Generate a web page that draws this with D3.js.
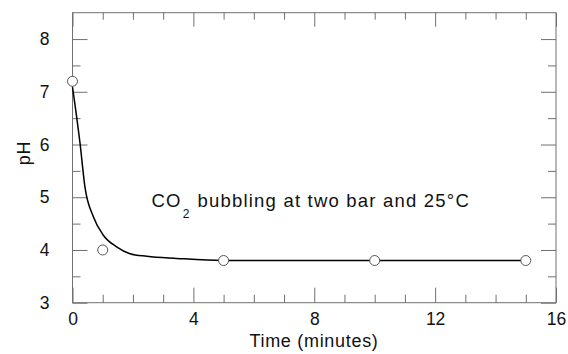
<!DOCTYPE html>
<html><head><meta charset="utf-8">
<script src="https://cdn.jsdelivr.net/npm/d3@7"></script>
<style>body{margin:0;background:#fff;} text{font-family:"Liberation Sans",Arial,sans-serif;fill:#111;}</style>
</head><body>
<svg id="c" width="568" height="354"></svg>
<script>
// Measured data
const time = [0, 1, 5, 10, 15];
const pH = [7.2, 4.0, 3.8, 3.8, 3.8];
// Fitted curve
const fitTime = [0, 0.25, 0.41, 0.69, 1.02, 1.46, 1.9, 2.46, 3.45, 5, 10, 15];
const fitPH = [7.09, 6.02, 5.2, 4.63, 4.28, 4.06, 3.93, 3.88, 3.84, 3.8, 3.8, 3.8];
const xTicks = [0, 4, 8, 12, 16];
const yTicks = [3, 4, 5, 6, 7, 8];
const xLabel = "Time (minutes)";
const yLabel = "pH";

const L = 72.5, R = 556, T = 12.7, B = 302.7;
const svg = d3.select("#c");
const x = d3.scaleLinear().domain([0, 16]).range([L, R]);
const y = d3.scaleLinear().domain([3, 8.5]).range([B, T]);
const axisColor = "#707070";

const xMinor = d3.range(0, 17, 1).filter(v => v % 4 !== 0);
const yMinor = d3.range(3.5, 8.5, 1);

function styleAxis(g){ g.select(".domain").remove(); g.selectAll(".tick line").attr("stroke", axisColor).attr("stroke-width", 1); }

// bottom
svg.append("g").attr("transform", `translate(0,${B})`)
  .call(d3.axisBottom(x).tickValues(xTicks).tickSize(-15).tickPadding(10).tickFormat(d3.format("d")))
  .call(styleAxis).call(g => g.selectAll("text").attr("font-size", 17.5).attr("fill", "#111"));
svg.append("g").attr("transform", `translate(0,${B})`)
  .call(d3.axisBottom(x).tickValues(xMinor).tickSize(-8).tickFormat(""))
  .call(styleAxis);
// top
svg.append("g").attr("transform", `translate(0,${T})`)
  .call(d3.axisTop(x).tickValues(xTicks).tickSize(-14).tickFormat("")).call(styleAxis);
svg.append("g").attr("transform", `translate(0,${T})`)
  .call(d3.axisTop(x).tickValues(xMinor).tickSize(-7).tickFormat("")).call(styleAxis);
// left
svg.append("g").attr("transform", `translate(${L},0)`)
  .call(d3.axisLeft(y).tickValues(yTicks).tickSize(-15).tickPadding(23).tickFormat(d3.format("d")))
  .call(styleAxis).call(g => g.selectAll("text").attr("font-size", 17.5).attr("fill", "#111"));
svg.append("g").attr("transform", `translate(${L},0)`)
  .call(d3.axisLeft(y).tickValues(yMinor).tickSize(-8).tickFormat("")).call(styleAxis);
// right
svg.append("g").attr("transform", `translate(${R},0)`)
  .call(d3.axisRight(y).tickValues(yTicks).tickSize(-15).tickFormat("")).call(styleAxis);
svg.append("g").attr("transform", `translate(${R},0)`)
  .call(d3.axisRight(y).tickValues(yMinor).tickSize(-8).tickFormat("")).call(styleAxis);

// frame
svg.append("rect").attr("x", L).attr("y", T).attr("width", R - L).attr("height", B - T)
  .attr("fill", "none").attr("stroke", axisColor).attr("stroke-width", 1);

// fitted curve
const fit = fitTime.map((t, i) => [t, fitPH[i]]);
svg.append("path").datum(fit)
  .attr("d", d3.line().x(d => x(d[0])).y(d => y(d[1])).curve(d3.curveMonotoneX))
  .attr("fill", "none").attr("stroke", "#000").attr("stroke-width", 1.5);

// points
svg.selectAll("circle.pt").data(time.map((t, i) => [t, pH[i]])).join("circle")
  .attr("class", "pt").attr("cx", d => x(d[0])).attr("cy", d => y(d[1])).attr("r", 5)
  .attr("fill", "#fff").attr("stroke", "#555").attr("stroke-width", 1);

// labels
svg.append("text").attr("x", 314).attr("y", 347).attr("text-anchor", "middle")
  .attr("font-size", 18).attr("letter-spacing", 0.7).text(xLabel);
svg.append("text").attr("transform", "translate(30,153) rotate(-90)").attr("text-anchor", "middle")
  .attr("font-size", 18).attr("letter-spacing", 0.7).text(yLabel);

// annotation
const ann = svg.append("text").attr("x", 151.5).attr("y", 206.5).attr("font-size", 18.5).attr("letter-spacing", 1.2);
ann.append("tspan").text("CO");
ann.append("tspan").attr("font-size", 12).attr("dy", 11).attr("dx", 1).text("2");
ann.append("tspan").attr("dy", -11).attr("dx", 7).text("bubbling at two bar and 25°C");
</script>
</body></html>
